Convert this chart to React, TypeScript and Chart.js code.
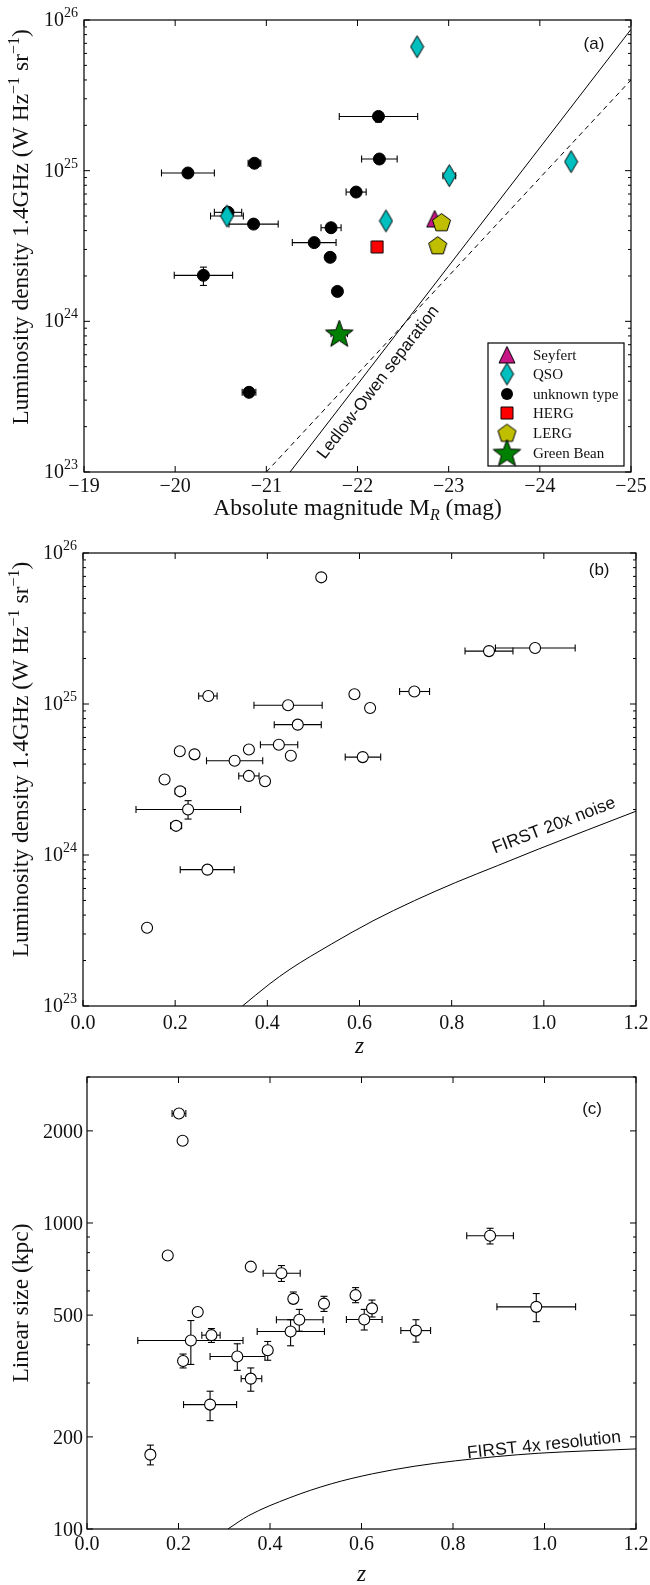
import React, { useEffect, useRef } from 'react';
import { Chart, registerables } from 'chart.js';

Chart.register(...registerables);

// ================= Panel (a): L(1.4GHz) vs absolute magnitude =================
const unknownM = [-22.23, -20.87, -20.14, -22.24, -21.985, -20.58, -20.86, -21.71, -21.525, -21.7, -20.31, -21.78, -20.81];
const unknownL = [2.29e25, 1.12e25, 9.65e24, 1.195e25, 7.21e24, 5.29e24, 4.42e24, 4.18e24, 3.33e24, 2.66e24, 2.02e24, 1.58e24, 3.38e23];
const unknownMErr = [0.43, 0.07, 0.29, 0.195, 0.11, 0.15, 0.27, 0.11, 0.24, 0, 0.32, 0, 0.075];
const unknownLLo = [2.1e25, null, null, null, null, null, null, null, null, null, 1.73e24, null, null];
const unknownLHi = [2.45e25, null, null, null, null, null, null, null, null, null, 2.29e24, null, null];

const qsoM = [-22.654, -23.007, -24.343, -20.568, -22.312];
const qsoL = [6.65e25, 9.27e24, 1.148e25, 5.0e24, 4.64e24];
const qsoMErr = [0, 0.07, 0, 0.18, 0];

const seyfertM = [-22.846];
const seyfertL = [4.78e24];
const hergM = [-22.216];
const hergL = [3.12e24];
const lergM = [-22.922, -22.88];
const lergL = [4.54e24, 3.19e24];
const beanM = [-21.8];
const beanL = [8.28e23];
const beanMErr = [0.09];

const ledlowSolidM = [-21.26, -25];
const ledlowSolidL = [1e23, 8.67e25];
const ledlowDashM = [-21.0, -25];
const ledlowDashL = [1e23, 4.0e25];

const aXTicks = [-19, -20, -21, -22, -23, -24, -25];
const aXTickLabels = ['\u221219', '\u221220', '\u221221', '\u221222', '\u221223', '\u221224', '\u221225'];
const lumTicks = [1e23, 1e24, 1e25, 1e26];

// ================= Panel (b): L(1.4GHz) vs redshift =================
const bZ = [0.517, 0.981, 0.881, 0.272, 0.445, 0.589, 0.623, 0.719, 0.466, 0.425, 0.21, 0.242, 0.36, 0.451, 0.329, 0.607, 0.177, 0.36, 0.395, 0.211, 0.228, 0.202, 0.27, 0.139];
const bL = [6.9e25, 2.35e25, 2.24e25, 1.13e25, 9.8e24, 1.16e25, 9.4e24, 1.21e25, 7.3e24, 5.37e24, 4.87e24, 4.64e24, 5.0e24, 4.54e24, 4.21e24, 4.45e24, 3.16e24, 3.34e24, 3.08e24, 2.64e24, 2.0e24, 1.56e24, 8.0e23, 3.3e23];
const bZLo = [null, 0.895, 0.829, 0.251, 0.371, null, null, 0.687, 0.415, 0.385, null, null, null, null, 0.268, 0.569, null, 0.338, null, 0.2, 0.115, 0.19, 0.211, 0.132];
const bZHi = [null, 1.068, 0.933, 0.291, 0.519, null, null, 0.752, 0.517, 0.466, null, null, null, null, 0.39, 0.646, null, 0.382, null, 0.222, 0.342, 0.214, 0.328, 0.146];
const bLLo = [null, 2.22e25, null, null, 9.3e24, null, null, null, null, null, null, null, null, null, null, null, null, null, null, null, 1.73e24, null, null, null];
const bLHi = [null, 2.48e25, null, null, 1.03e25, null, null, null, null, null, null, null, null, null, null, null, null, null, null, null, 2.29e24, null, null, null];

const noiseZ = [0.346, 0.404, 0.449, 0.539, 0.629, 0.719, 0.809, 0.899, 0.989, 1.2];
const noiseL = [1.0e23, 1.393e23, 1.75e23, 2.57e23, 3.66e23, 4.98e23, 6.58e23, 8.49e23, 1.096e24, 1.95e24];

const zTicks = [0, 0.2, 0.4, 0.6, 0.8, 1.0, 1.2];
const zTickLabels = ['0.0', '0.2', '0.4', '0.6', '0.8', '1.0', '1.2'];

// ================= Panel (c): linear size vs redshift =================
const cZ = [0.1385, 0.21, 0.227, 0.242, 0.272, 0.3285, 0.269, 0.358, 0.395, 0.445, 0.451, 0.464, 0.518, 0.587, 0.606, 0.623, 0.719, 0.982, 0.201, 0.209, 0.881, 0.1765, 0.358, 0.425];
const cSize = [175, 354, 413, 512, 430, 366, 255, 310, 384, 442, 565, 483, 545, 581, 484, 526, 445, 532, 2279, 1856, 909, 783, 720, 685];
const cZLo = [null, 0.203, 0.111, null, 0.251, 0.269, 0.211, 0.337, null, 0.372, null, 0.414, null, null, 0.567, null, 0.686, 0.896, 0.186, null, 0.83, null, null, 0.385];
const cZHi = [null, 0.217, 0.341, null, 0.291, 0.389, 0.327, 0.382, null, 0.519, null, 0.516, null, null, 0.645, null, 0.751, 1.068, 0.216, null, 0.932, null, null, 0.466];
const cSizeLo = [162, 336, 345, 497, 407, 330, 226, 282, 356, 397, 546, 443, 514, 549, 447, 493, 408, 476, null, null, 854, null, null, 644];
const cSizeHi = [188, 373, 480, 527, 452, 403, 282, 336, 410, 483, 595, 522, 576, 615, 522, 560, 483, 588, null, null, 961, null, null, 726];

const resZ = [0.308, 0.353, 0.443, 0.534, 0.624, 0.715, 0.805, 0.896, 0.986, 1.2];
const resSize = [100, 110.5, 126.5, 140.5, 151.5, 160.3, 167, 172.5, 176.8, 182.7];

const cYTicks = [100, 200, 500, 1000, 2000];
const cYTickLabels = ['100', '200', '500', '1000', '2000'];
const cYMinor = [300, 400, 600, 700, 800, 900, 3000];

// ================= drawing helpers =================
const SERIF = '"Liberation Serif", "Times New Roman", serif';
const SANS = '"Liberation Sans", Arial, sans-serif';
const INK = '#111';
const TITLE_SIZE = 23.5;

type Seg = { t: string; it?: boolean; sup?: boolean; sub?: boolean };

function fnt(size: number, italic = false, fam = SERIF) {
  return `${italic ? 'italic ' : ''}${size}px ${fam}`;
}

function drawRich(ctx: CanvasRenderingContext2D, segs: Seg[], x: number, y: number, size: number, align: 'left' | 'center' | 'right') {
  const parts = segs.map((s) => {
    const sz = s.sup || s.sub ? Math.round(size * 0.7) : size;
    ctx.font = fnt(sz, !!s.it);
    return { s, sz, w: ctx.measureText(s.t).width };
  });
  const total = parts.reduce((acc, p) => acc + p.w, 0);
  let cx = align === 'center' ? x - total / 2 : align === 'right' ? x - total : x;
  ctx.textAlign = 'left';
  ctx.textBaseline = 'alphabetic';
  for (const p of parts) {
    ctx.font = fnt(p.sz, !!p.s.it);
    const dy = p.s.sup ? -size * 0.4 : p.s.sub ? size * 0.22 : 0;
    ctx.fillText(p.s.t, cx, y + dy);
    cx += p.w;
  }
}

function markerCanvas(w: number, h: number, draw: (c: CanvasRenderingContext2D) => void) {
  const c = document.createElement('canvas');
  c.width = w;
  c.height = h;
  const ctx = c.getContext('2d')!;
  ctx.lineWidth = 1;
  ctx.strokeStyle = '#000';
  ctx.lineJoin = 'miter';
  draw(ctx);
  return c;
}

function polyMarker(w: number, h: number, pts: number[][], fill: string) {
  return markerCanvas(w, h, (ctx) => {
    ctx.beginPath();
    pts.forEach(([px, py], i) => (i ? ctx.lineTo(px, py) : ctx.moveTo(px, py)));
    ctx.closePath();
    ctx.fillStyle = fill;
    ctx.fill();
    ctx.stroke();
  });
}

function starPts(cx: number, cy: number, R: number, r: number) {
  const out: number[][] = [];
  for (let i = 0; i < 10; i++) {
    const ang = -Math.PI / 2 + (i * Math.PI) / 5;
    const rr = i % 2 === 0 ? R : r;
    out.push([cx + rr * Math.cos(ang), cy + rr * Math.sin(ang)]);
  }
  return out;
}

function pentPts(cx: number, cy: number, R: number) {
  const out: number[][] = [];
  for (let i = 0; i < 5; i++) {
    const ang = -Math.PI / 2 + (i * 2 * Math.PI) / 5;
    out.push([cx + R * Math.cos(ang), cy + R * Math.sin(ang)]);
  }
  return out;
}

function pts(xs: number[], ys: number[]) {
  return xs.map((x, i) => ({ x, y: ys[i] }));
}
function symLo(c: number[], e: number[]) {
  return c.map((v, i) => (e[i] ? v - e[i] : null));
}
function symHi(c: number[], e: number[]) {
  return c.map((v, i) => (e[i] ? v + e[i] : null));
}

type LegendEntry = { label: string; draw: (ctx: CanvasRenderingContext2D, x: number, y: number) => void };

type DecorCfg = {
  xMajor: number[];
  xLabels: string[];
  xMinor: number[];
  yMajor: number[];
  yLabels: string[] | null; // null => powers of ten
  yMinor: number[];
  xLabelDy: number;
  yLabelGap: number;
  xTitle: Seg[];
  xTitleDy: number;
  yTitle: Seg[];
  yTitleX: number;
  yTitleDy: number;
  annotations: { text: string; x: number; y: number; rot: number; size: number }[];
  legend?: { offRight: number; offBottom: number; w: number; h: number; rows: number[]; entries: LegendEntry[] };
};

const CAP = 3.5;

function makeDecor(cfg: DecorCfg) {
  return {
    id: 'decor',
    beforeDatasetsDraw(chart: any) {
      const { ctx, chartArea: a } = chart;
      const xs = chart.scales.x;
      const ys = chart.scales.y;
      ctx.save();
      ctx.beginPath();
      ctx.rect(a.left, a.top, a.right - a.left, a.bottom - a.top);
      ctx.clip();
      ctx.strokeStyle = '#000';
      ctx.lineWidth = 1.1;
      const seg = (x1: number, y1: number, x2: number, y2: number) => {
        ctx.beginPath();
        ctx.moveTo(x1, y1);
        ctx.lineTo(x2, y2);
        ctx.stroke();
      };
      chart.data.datasets.forEach((ds: any) => {
        (ds.data as { x: number; y: number }[]).forEach((p, i) => {
          const px = xs.getPixelForValue(p.x);
          const py = ys.getPixelForValue(p.y);
          const xl = ds.errXLo ? ds.errXLo[i] : null;
          const xh = ds.errXHi ? ds.errXHi[i] : null;
          if (xl != null && xh != null) {
            const x1 = xs.getPixelForValue(xl);
            const x2 = xs.getPixelForValue(xh);
            seg(x1, py, x2, py);
            seg(x1, py - CAP, x1, py + CAP);
            seg(x2, py - CAP, x2, py + CAP);
          }
          const yl = ds.errYLo ? ds.errYLo[i] : null;
          const yh = ds.errYHi ? ds.errYHi[i] : null;
          if (yl != null && yh != null) {
            const y1 = ys.getPixelForValue(yl);
            const y2 = ys.getPixelForValue(yh);
            seg(px, y1, px, y2);
            seg(px - CAP, y1, px + CAP, y1);
            seg(px - CAP, y2, px + CAP, y2);
          }
        });
      });
      ctx.restore();
    },
    afterDatasetsDraw(chart: any) {
      const { ctx, chartArea: a } = chart;
      const xs = chart.scales.x;
      const ys = chart.scales.y;
      ctx.save();
      ctx.fillStyle = INK;

      // annotations
      for (const an of cfg.annotations) {
        const px = xs.getPixelForValue(an.x);
        const py = ys.getPixelForValue(an.y);
        ctx.save();
        ctx.translate(px, py);
        ctx.rotate((an.rot * Math.PI) / 180);
        ctx.font = fnt(an.size, false, SANS);
        ctx.textAlign = 'center';
        ctx.textBaseline = 'middle';
        ctx.fillText(an.text, 0, 0);
        ctx.restore();
      }

      // legend
      if (cfg.legend) {
        const L = cfg.legend;
        const bx = a.right - L.offRight;
        const by = a.bottom - L.offBottom;
        ctx.fillStyle = '#fff';
        ctx.fillRect(bx, by, L.w, L.h);
        ctx.strokeStyle = '#000';
        ctx.lineWidth = 1.2;
        ctx.strokeRect(bx, by, L.w, L.h);
        L.entries.forEach((e, i) => {
          const y = by + L.rows[i];
          e.draw(ctx, bx + 19, y);
          ctx.fillStyle = INK;
          ctx.font = fnt(15);
          ctx.textAlign = 'left';
          ctx.textBaseline = 'alphabetic';
          ctx.fillText(e.label, bx + 45, y + 5);
        });
      }

      // frame
      ctx.strokeStyle = '#000';
      ctx.lineWidth = 1.2;
      ctx.strokeRect(a.left, a.top, a.right - a.left, a.bottom - a.top);

      // ticks
      ctx.lineWidth = 1;
      const tick = (x1: number, y1: number, x2: number, y2: number) => {
        ctx.beginPath();
        ctx.moveTo(x1, y1);
        ctx.lineTo(x2, y2);
        ctx.stroke();
      };
      const MAJ = 6;
      const MIN = 3;
      cfg.xMajor.forEach((v) => {
        const px = xs.getPixelForValue(v);
        tick(px, a.bottom, px, a.bottom - MAJ);
        tick(px, a.top, px, a.top + MAJ);
      });
      cfg.xMinor.forEach((v) => {
        const px = xs.getPixelForValue(v);
        tick(px, a.bottom, px, a.bottom - MIN);
        tick(px, a.top, px, a.top + MIN);
      });
      cfg.yMajor.forEach((v) => {
        const py = ys.getPixelForValue(v);
        tick(a.left, py, a.left + MAJ, py);
        tick(a.right, py, a.right - MAJ, py);
      });
      cfg.yMinor.forEach((v) => {
        const py = ys.getPixelForValue(v);
        tick(a.left, py, a.left + MIN, py);
        tick(a.right, py, a.right - MIN, py);
      });

      // tick labels
      ctx.fillStyle = INK;
      ctx.textBaseline = 'alphabetic';
      cfg.xMajor.forEach((v, i) => {
        const px = xs.getPixelForValue(v);
        ctx.font = fnt(20);
        ctx.textAlign = 'center';
        ctx.fillText(cfg.xLabels[i], px, a.bottom + cfg.xLabelDy);
      });
      cfg.yMajor.forEach((v, i) => {
        const py = ys.getPixelForValue(v);
        if (cfg.yLabels) {
          ctx.font = fnt(20);
          ctx.textAlign = 'right';
          ctx.fillText(cfg.yLabels[i], a.left - cfg.yLabelGap, py + 7);
        } else {
          const ex = String(Math.round(Math.log10(v)));
          ctx.font = fnt(14);
          const we = ctx.measureText(ex).width;
          ctx.textAlign = 'right';
          const right = a.left - cfg.yLabelGap;
          ctx.fillText(ex, right, py - 3);
          ctx.font = fnt(20);
          ctx.fillText('10', right - we, py + 6);
        }
      });

      // axis titles
      drawRich(ctx, cfg.xTitle, (a.left + a.right) / 2, a.bottom + cfg.xTitleDy, TITLE_SIZE, 'center');
      ctx.save();
      ctx.translate(cfg.yTitleX, (a.top + a.bottom) / 2 + cfg.yTitleDy);
      ctx.rotate(-Math.PI / 2);
      drawRich(ctx, cfg.yTitle, 0, 0, TITLE_SIZE, 'center');
      ctx.restore();

      ctx.restore();
    },
  };
}

function logMinor(e0: number, e1: number) {
  const out: number[] = [];
  for (let e = e0; e < e1; e++) for (let k = 2; k <= 9; k++) out.push(k * Math.pow(10, e));
  return out;
}

function baseOptions(pad: { top: number; right: number }, yWidth: number, xHeight: number, x: any, y: any) {
  return {
    responsive: false,
    animation: false as const,
    events: [] as any[],
    layout: { padding: { top: pad.top, right: pad.right, left: 0, bottom: 0 } },
    plugins: { legend: { display: false }, tooltip: { enabled: false } },
    scales: {
      x: {
        ...x,
        grid: { display: false, drawTicks: false },
        border: { display: false },
        ticks: { display: false },
        afterFit: (s: any) => {
          s.height = xHeight;
        },
      },
      y: {
        ...y,
        grid: { display: false, drawTicks: false },
        border: { display: false },
        ticks: { display: false },
        afterFit: (s: any) => {
          s.width = yWidth;
        },
      },
    },
  };
}

const lumTitle: Seg[] = [
  { t: 'Luminosity density 1.4GHz (W Hz' },
  { t: '\u22121', sup: true },
  { t: ' sr' },
  { t: '\u22121', sup: true },
  { t: ')' },
];

export default function App() {
  const refA = useRef<HTMLCanvasElement>(null);
  const refB = useRef<HTMLCanvasElement>(null);
  const refC = useRef<HTMLCanvasElement>(null);

  useEffect(() => {
    const diamondImg = polyMarker(15, 25, [[7.5, 1.5], [14, 12.5], [7.5, 23.5], [1, 12.5]], '#00bfbf');
    const triImg = polyMarker(18, 19, [[9, 1], [17, 17.5], [1, 17.5]], '#c71585');
    const squareImg = polyMarker(14, 14, [[1, 1], [13, 1], [13, 13], [1, 13]], '#ff0000');
    const pentImg = polyMarker(21, 21, pentPts(10.5, 11.2, 9.5), '#bfbf00');
    const starImg = polyMarker(31, 31, starPts(15.5, 16.5, 14.5, 6), '#008000');
    const drawImg = (img: HTMLCanvasElement) => (ctx: CanvasRenderingContext2D, x: number, y: number) =>
      ctx.drawImage(img, x - img.width / 2, y - img.height / 2);

    const imgPoint = (img: HTMLCanvasElement) => ({ pointStyle: img, pointRadius: 8, borderColor: '#000', backgroundColor: '#000' });

    // ---------- Panel a ----------
    const chartA = new Chart(refA.current!, {
      type: 'scatter',
      data: {
        datasets: [
          { label: 'Green Bean', data: pts(beanM, beanL), ...imgPoint(starImg), order: 0, errXLo: symLo(beanM, beanMErr), errXHi: symHi(beanM, beanMErr) } as any,
          { label: 'LERG', data: pts(lergM, lergL), ...imgPoint(pentImg), order: 1 } as any,
          { label: 'HERG', data: pts(hergM, hergL), ...imgPoint(squareImg), order: 2 } as any,
          { label: 'Seyfert', data: pts(seyfertM, seyfertL), ...imgPoint(triImg), order: 3 } as any,
          { label: 'QSO', data: pts(qsoM, qsoL), ...imgPoint(diamondImg), order: 4, errXLo: symLo(qsoM, qsoMErr), errXHi: symHi(qsoM, qsoMErr) } as any,
          {
            label: 'unknown type',
            data: pts(unknownM, unknownL),
            pointStyle: 'circle',
            pointRadius: 6,
            backgroundColor: '#000',
            borderColor: '#000',
            borderWidth: 1,
            order: 5,
            errXLo: symLo(unknownM, unknownMErr),
            errXHi: symHi(unknownM, unknownMErr),
            errYLo: unknownLLo,
            errYHi: unknownLHi,
          } as any,
          { label: 'LO', data: pts(ledlowSolidM, ledlowSolidL), showLine: true, pointRadius: 0, borderColor: '#000', borderWidth: 1, order: 6 } as any,
          { label: 'LO dashed', data: pts(ledlowDashM, ledlowDashL), showLine: true, pointRadius: 0, borderColor: '#000', borderWidth: 1, borderDash: [5, 4], order: 6 } as any,
        ],
      },
      options: baseOptions({ top: 20, right: 19 }, 84, 58, { type: 'linear', min: -25, max: -19, reverse: true }, { type: 'logarithmic', min: 1e23, max: 1e26 }) as any,
      plugins: [
        makeDecor({
          xMajor: aXTicks,
          xLabels: aXTickLabels,
          xMinor: [],
          yMajor: lumTicks,
          yLabels: null,
          yMinor: logMinor(23, 26),
          xLabelDy: 20,
          yLabelGap: 6,
          xTitle: [{ t: 'Absolute magnitude M' }, { t: 'R', it: true, sub: true }, { t: ' (mag)' }],
          xTitleDy: 43,
          yTitle: lumTitle,
          yTitleX: 28,
          yTitleDy: -19,
          annotations: [
            { text: '(a)', x: -24.594, y: Math.pow(10, 25.84), rot: 0, size: 17 },
            { text: 'Ledlow-Owen separation', x: -22.23, y: Math.pow(10, 23.594), rot: -52.4, size: 17 },
          ],
          legend: {
            offRight: 143,
            offBottom: 129,
            w: 136,
            h: 123,
            rows: [12, 31, 51, 70, 90, 110],
            entries: [
              { label: 'Seyfert', draw: drawImg(triImg) },
              { label: 'QSO', draw: drawImg(diamondImg) },
              {
                label: 'unknown type',
                draw: (ctx, x, y) => {
                  ctx.beginPath();
                  ctx.arc(x, y, 6, 0, Math.PI * 2);
                  ctx.fillStyle = '#000';
                  ctx.fill();
                },
              },
              { label: 'HERG', draw: drawImg(squareImg) },
              { label: 'LERG', draw: drawImg(pentImg) },
              { label: 'Green Bean', draw: drawImg(starImg) },
            ],
          },
        }) as any,
      ],
    });

    // ---------- Panel b ----------
    const chartB = new Chart(refB.current!, {
      type: 'scatter',
      data: {
        datasets: [
          {
            label: 'sources',
            data: pts(bZ, bL),
            pointStyle: 'circle',
            pointRadius: 5.5,
            backgroundColor: '#fff',
            borderColor: '#000',
            borderWidth: 1.1,
            order: 0,
            errXLo: bZLo,
            errXHi: bZHi,
            errYLo: bLLo,
            errYHi: bLHi,
          } as any,
          { label: 'FIRST 20x noise', data: pts(noiseZ, noiseL), showLine: true, cubicInterpolationMode: 'monotone', pointRadius: 0, borderColor: '#000', borderWidth: 1, order: 1 } as any,
        ],
      },
      options: baseOptions({ top: 23, right: 14 }, 83, 64, { type: 'linear', min: 0, max: 1.2 }, { type: 'logarithmic', min: 1e23, max: 1e26 }) as any,
      plugins: [
        makeDecor({
          xMajor: zTicks,
          xLabels: zTickLabels,
          xMinor: [],
          yMajor: lumTicks,
          yLabels: null,
          yMinor: logMinor(23, 26),
          xLabelDy: 23,
          yLabelGap: 6,
          xTitle: [{ t: 'z', it: true }],
          xTitleDy: 47,
          yTitle: lumTitle,
          yTitleX: 28,
          yTitleDy: -20,
          annotations: [
            { text: '(b)', x: 1.12, y: Math.pow(10, 25.886), rot: 0, size: 17 },
            { text: 'FIRST 20x noise', x: 1.022, y: Math.pow(10, 24.194), rot: -21, size: 17.5 },
          ],
        }) as any,
      ],
    });

    // ---------- Panel c ----------
    const chartC = new Chart(refC.current!, {
      type: 'scatter',
      data: {
        datasets: [
          {
            label: 'sources',
            data: pts(cZ, cSize),
            pointStyle: 'circle',
            pointRadius: 5.5,
            backgroundColor: '#fff',
            borderColor: '#000',
            borderWidth: 1.1,
            order: 0,
            errXLo: cZLo,
            errXHi: cZHi,
            errYLo: cSizeLo,
            errYHi: cSizeHi,
          } as any,
          { label: 'FIRST 4x resolution', data: pts(resZ, resSize), showLine: true, cubicInterpolationMode: 'monotone', pointRadius: 0, borderColor: '#000', borderWidth: 1, order: 1 } as any,
        ],
      },
      options: baseOptions({ top: 7, right: 14 }, 87, 56, { type: 'linear', min: 0, max: 1.2 }, { type: 'logarithmic', min: 100, max: 3000 }) as any,
      plugins: [
        makeDecor({
          xMajor: zTicks,
          xLabels: zTickLabels,
          xMinor: [],
          yMajor: cYTicks,
          yLabels: cYTickLabels,
          yMinor: cYMinor,
          xLabelDy: 21,
          yLabelGap: 4,
          xTitle: [{ t: 'z', it: true }],
          xTitleDy: 52,
          yTitle: [{ t: 'Linear size (kpc)' }],
          yTitleX: 28,
          yTitleDy: 0,
          annotations: [
            { text: '(c)', x: 1.104, y: 2350, rot: 0, size: 17 },
            { text: 'FIRST 4x resolution', x: 0.999, y: 187.7, rot: -6, size: 17.5 },
          ],
        }) as any,
      ],
    });

    return () => {
      chartA.destroy();
      chartB.destroy();
      chartC.destroy();
    };
  }, []);

  return (
    <div style={{ position: 'absolute', left: 0, top: 0, width: 650, height: 1585, background: '#fff' }}>
      <canvas ref={refA} width={650} height={530} style={{ position: 'absolute', left: 0, top: 0, width: 650, height: 530 }} />
      <canvas ref={refB} width={650} height={540} style={{ position: 'absolute', left: 0, top: 530, width: 650, height: 540 }} />
      <canvas ref={refC} width={650} height={515} style={{ position: 'absolute', left: 0, top: 1070, width: 650, height: 515 }} />
    </div>
  );
}
